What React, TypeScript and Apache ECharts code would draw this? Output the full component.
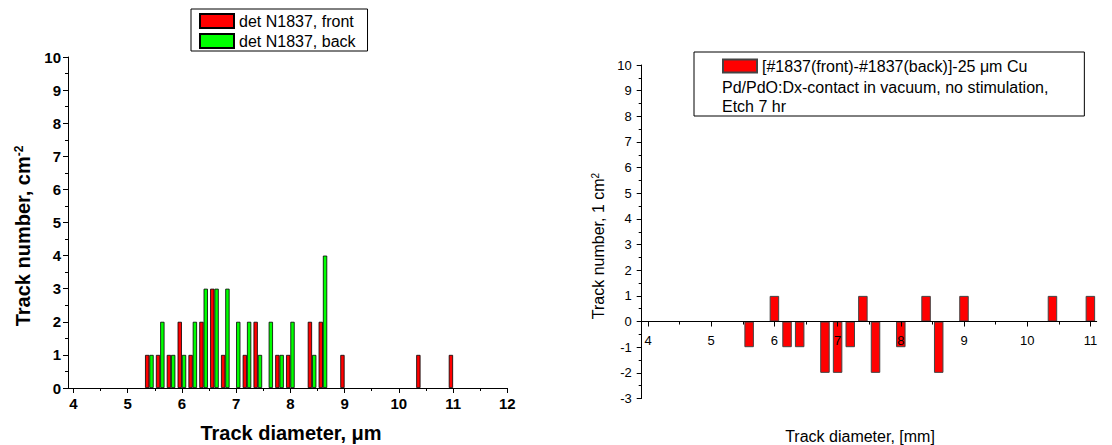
import React, { useEffect, useRef } from "react";
import * as echarts from "echarts";

// Left panel: track-diameter histogram (bin centre, count)
const frontBins = [5.4, 5.6, 5.8, 6.0, 6.2, 6.4, 6.6, 6.8, 7.2, 7.4, 7.8, 8.0, 8.4, 8.6, 9.0, 10.4, 11.0];
const frontCounts = [1, 1, 1, 2, 1, 2, 3, 1, 1, 2, 1, 1, 2, 2, 1, 1, 1];
const backBins = [5.4, 5.6, 5.8, 6.0, 6.2, 6.4, 6.6, 6.8, 7.0, 7.2, 7.4, 7.6, 7.8, 8.0, 8.4, 8.6];
const backCounts = [1, 2, 1, 1, 2, 3, 3, 3, 2, 2, 1, 2, 1, 2, 1, 4];

// Right panel: difference front - back
const diffBins = [5.6, 6.0, 6.2, 6.4, 6.8, 7.0, 7.2, 7.4, 7.6, 8.0, 8.4, 8.6, 9.0, 10.4, 11.0];
const diffCounts = [-1, 1, -1, -1, -2, -2, -1, 1, -2, -1, 1, -2, 1, 1, 1];

// Tick labels
const leftXTicks = [4, 5, 6, 7, 8, 9, 10, 11, 12];
const rightXTicks = [4, 5, 6, 7, 8, 9, 10, 11];

const frontName = "det N1837, front";
const backName = "det N1837, back";
const diffName = "[#1837(front)-#1837(back)]-25 \u03bcm Cu";
const diffNote1 = "Pd/PdO:Dx-contact in vacuum, no stimulation,";
const diffNote2 = "Etch 7 hr";

const FONT = "'Liberation Sans', Arial, Helvetica, sans-serif";

function buildOption() {
  const black = "#000";
  const tickStyle = { color: black, width: 1 };
  return {
    animation: false,
    textStyle: { fontFamily: FONT, color: black },
    legend: [
      {
        data: [frontName, backName],
        orient: "vertical",
        left: 191,
        top: 9,
        itemWidth: 34,
        itemHeight: 14,
        itemGap: 4,
        icon: "rect",
        padding: [4, 12, 2, 8],
        borderColor: black,
        borderWidth: 1,
        selectedMode: false,
        textStyle: { fontSize: 16, fontFamily: FONT, color: black },
      },
      {
        data: [diffName],
        orient: "vertical",
        left: 694,
        top: 52,
        itemWidth: 34,
        itemHeight: 13,
        icon: "rect",
        padding: [6, 57, 42, 28],
        borderColor: black,
        borderWidth: 1,
        selectedMode: false,
        textStyle: { fontSize: 16, fontFamily: FONT, color: black },
      },
    ],
    grid: [
      { left: 68, top: 57, width: 439.3, height: 331, containLabel: false },
      { left: 641.7, top: 65, width: 455, height: 333.5, containLabel: false },
    ],
    xAxis: [
      {
        gridIndex: 0,
        type: "value",
        min: 3.9,
        max: 12,
        minInterval: 1,
        maxInterval: 1,
        axisLine: { show: true, onZero: false, lineStyle: tickStyle },
        axisTick: { show: true, length: 5, customValues: leftXTicks, lineStyle: tickStyle },
        minorTick: { show: true, splitNumber: 2, length: 3, lineStyle: tickStyle },
        axisLabel: {
          customValues: leftXTicks,
          fontSize: 15,
          fontWeight: "bold",
          fontFamily: FONT,
          color: black,
          margin: 8,
          formatter: (v: number) => (Number.isInteger(v) ? String(v) : ""),
        },
        splitLine: { show: false },
      },
      {
        gridIndex: 1,
        type: "value",
        min: 3.9,
        max: 11.1,
        minInterval: 1,
        maxInterval: 1,
        z: 3,
        axisLine: { show: true, onZero: true, lineStyle: tickStyle },
        axisTick: { show: true, length: 5, customValues: rightXTicks, lineStyle: tickStyle },
        minorTick: { show: true, splitNumber: 2, length: 3, lineStyle: tickStyle },
        axisLabel: {
          customValues: rightXTicks,
          fontSize: 13,
          fontFamily: FONT,
          color: black,
          margin: -65,
          formatter: (v: number) => (Number.isInteger(v) ? String(v) : ""),
        },
        splitLine: { show: false },
      },
    ],
    yAxis: [
      {
        gridIndex: 0,
        type: "value",
        min: 0,
        max: 10,
        interval: 1,
        axisLine: { show: true, lineStyle: tickStyle },
        axisTick: { show: true, length: 5, lineStyle: tickStyle },
        minorTick: { show: true, splitNumber: 2, length: 3, lineStyle: tickStyle },
        axisLabel: { fontSize: 15, fontWeight: "bold", fontFamily: FONT, color: black, margin: 7 },
        splitLine: { show: false },
      },
      {
        gridIndex: 1,
        type: "value",
        min: -3,
        max: 10,
        interval: 1,
        axisLine: { show: true, lineStyle: tickStyle },
        axisTick: { show: true, length: 5, lineStyle: tickStyle },
        minorTick: { show: true, splitNumber: 2, length: 3, lineStyle: tickStyle },
        axisLabel: { fontSize: 13, fontFamily: FONT, color: black, margin: 10 },
        splitLine: { show: false },
      },
    ],
    series: [
      {
        name: frontName,
        type: "bar",
        xAxisIndex: 0,
        yAxisIndex: 0,
        barWidth: 4.3,
        barGap: "0%",
        data: frontBins.map((x, i) => [x, frontCounts[i]]),
        itemStyle: { color: "#FF0000", borderColor: "#000", borderWidth: 0.8 },
      },
      {
        name: backName,
        type: "bar",
        xAxisIndex: 0,
        yAxisIndex: 0,
        barWidth: 4.3,
        barGap: "0%",
        data: backBins.map((x, i) => [x, backCounts[i]]),
        itemStyle: { color: "#00FF00", borderColor: "#000", borderWidth: 0.8 },
      },
      {
        name: diffName,
        type: "bar",
        xAxisIndex: 1,
        yAxisIndex: 1,
        barWidth: 9.5,
        data: diffBins.map((x, i) => [x, diffCounts[i]]),
        itemStyle: { color: "#FF0000", borderColor: "#444", borderWidth: 1 },
      },
    ],
    graphic: [
      {
        type: "text",
        x: 291,
        y: 433,
        style: {
          text: "Track diameter, \u03bcm",
          fontSize: 20,
          fontWeight: "bold",
          fontFamily: FONT,
          fill: black,
          align: "center",
          verticalAlign: "middle",
        },
      },
      {
        type: "text",
        x: 23,
        y: 236,
        rotation: Math.PI / 2,
        style: {
          text: "{a|Track number, cm}{s|-2}",
          rich: {
            a: { fontSize: 20, fontWeight: "bold", fontFamily: FONT, fill: black },
            s: { fontSize: 12, fontWeight: "bold", fontFamily: FONT, fill: black, verticalAlign: "top" },
          },
          align: "center",
          verticalAlign: "middle",
        },
      },
      {
        type: "text",
        x: 860,
        y: 436,
        style: {
          text: "Track diameter, [mm]",
          fontSize: 16,
          fontFamily: FONT,
          fill: black,
          align: "center",
          verticalAlign: "middle",
        },
      },
      {
        type: "text",
        x: 598,
        y: 246,
        rotation: Math.PI / 2,
        style: {
          text: "{a|Track number, 1 cm}{s|2}",
          rich: {
            a: { fontSize: 16, fontFamily: FONT, fill: black },
            s: { fontSize: 10, fontFamily: FONT, fill: black, verticalAlign: "top" },
          },
          align: "center",
          verticalAlign: "middle",
        },
      },
      {
        type: "text",
        x: 722,
        y: 87.3,
        style: { text: diffNote1, fontSize: 16, fontFamily: FONT, fill: black, align: "left", verticalAlign: "middle" },
      },
      {
        type: "text",
        x: 722,
        y: 106,
        style: { text: diffNote2, fontSize: 16, fontFamily: FONT, fill: black, align: "left", verticalAlign: "middle" },
      },
    ],
  };
}

export default function App() {
  const ref = useRef<HTMLDivElement | null>(null);
  useEffect(() => {
    document.body.style.margin = "0";
    if (!ref.current) return;
    const chart = echarts.init(ref.current, null, { renderer: "svg" });
    chart.setOption(buildOption() as any);
    return () => {
      chart.dispose();
    };
  }, []);
  return <div ref={ref} style={{ width: 1112, height: 445, background: "#fff" }} />;
}
